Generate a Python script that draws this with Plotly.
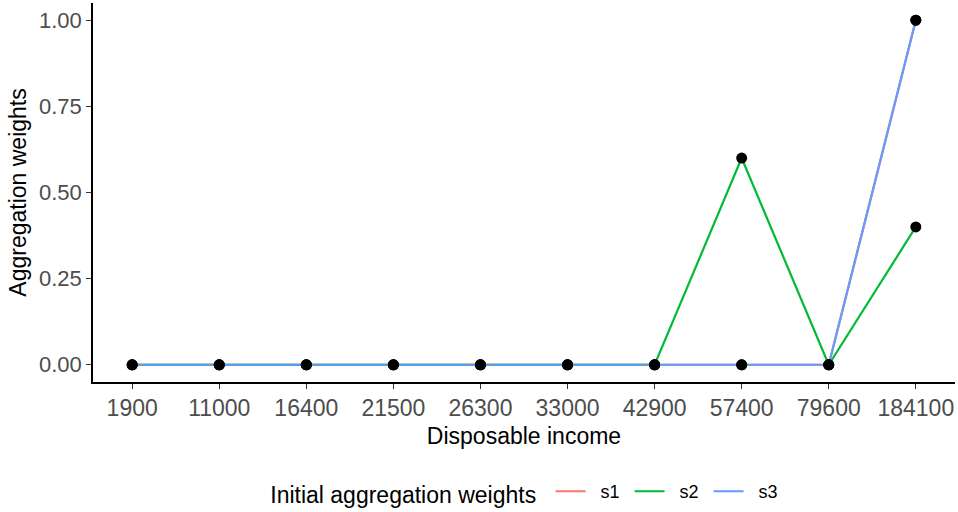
import plotly.graph_objects as go

income = ["1900", "11000", "16400", "21500", "26300", "33000", "42900", "57400", "79600", "184100"]
s1 = [0, 0, 0, 0, 0, 0, 0, 0, 0, 1.0]
s2 = [0, 0, 0, 0, 0, 0, 0, 0.6, 0, 0.4]
s3 = [0, 0, 0, 0, 0, 0, 0, 0, 0, 1.0]
series = {"s1": s1, "s2": s2, "s3": s3}
colors = {"s1": "#F8766D", "s2": "#00BA38", "s3": "#619CFF"}

fig = go.Figure()
for name, vals in series.items():
    fig.add_trace(go.Scatter(x=income, y=vals, mode="lines", name="\u00a0\u00a0" + name,
                             line=dict(color=colors[name], width=2.2)))
for name, vals in series.items():
    fig.add_trace(go.Scatter(x=income, y=vals, mode="markers", showlegend=False,
                             marker=dict(color="black", size=11), hoverinfo="skip"))

fig.update_layout(
    width=958, height=512,
    margin=dict(l=93, r=3, t=3, b=130),
    paper_bgcolor="white", plot_bgcolor="white",
    font=dict(family="Liberation Sans, Arial, sans-serif", color="black"),
    xaxis=dict(type="category", range=[-0.45, 9.45], showline=True, linecolor="black",
               linewidth=1.5, ticks="outside", ticklen=5, tickcolor="#333333",
               tickfont=dict(size=23, color="#4d4d4d"), showgrid=False, zeroline=False,
               automargin=False,
               title=dict(text="Disposable income", font=dict(size=23), standoff=8)),
    yaxis=dict(range=[-0.05, 1.05], tickvals=[0, 0.25, 0.5, 0.75, 1.0], tickformat=".2f",
               showline=True, linecolor="black", linewidth=1.5, ticks="outside", ticklen=5,
               tickcolor="#333333", tickfont=dict(size=22, color="#4d4d4d"), showgrid=False,
               zeroline=False, automargin=False,
               title=dict(text="Aggregation weights", font=dict(size=23), standoff=6)),
    legend=dict(orientation="h", x=0.28, xref="container", xanchor="left",
                y=0.037, yanchor="middle", yref="container",
                title=dict(text="Initial aggregation weights ", side="left", font=dict(size=23)),
                font=dict(size=18), itemwidth=30, entrywidth=34),
)
fig.write_html("out.html", config={"displayModeBar": False},
               post_script="document.body.style.margin='0';document.body.style.overflow='hidden';")
